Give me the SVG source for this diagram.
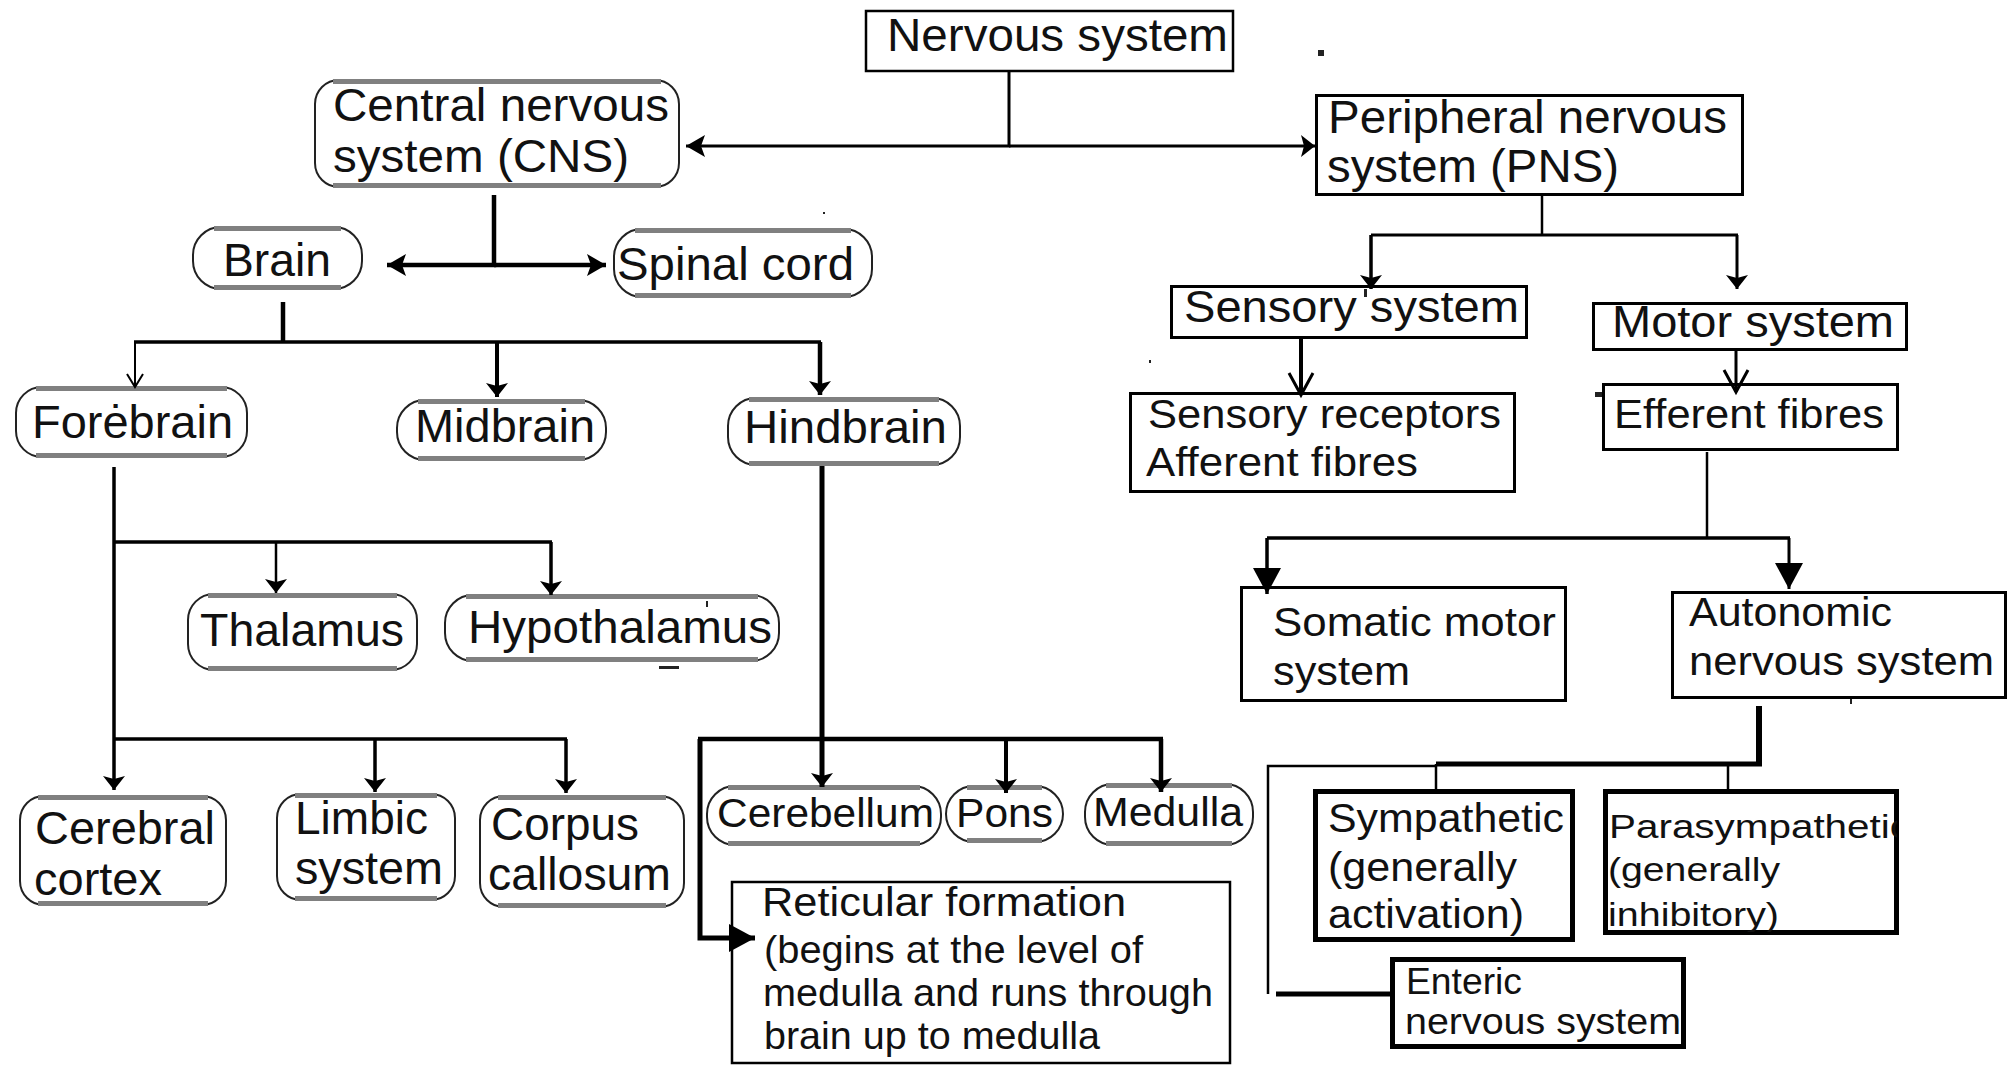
<svg xmlns="http://www.w3.org/2000/svg" width="2013" height="1066" viewBox="0 0 2013 1066">
<defs>
<style>
text{font-family:"Liberation Sans",Arial,sans-serif;fill:#111;}
.f46{font-size:45.5px}
.f44{font-size:44px}
.f41{font-size:41px}
.f40{font-size:40px}
.f38{font-size:38.5px}
.f36{font-size:36px}
.f34{font-size:34px}
.rr{fill:#fff;stroke:#222;stroke-width:2}
.gb{stroke:#808080;stroke-width:5;fill:none}
.bx{fill:#fff;stroke:#000;stroke-width:3}
.bx2{fill:#fff;stroke:#000;stroke-width:2.5}
.tk{fill:#fff;stroke:#000;stroke-width:5}
.ln{fill:none;stroke:#000;stroke-linejoin:miter;stroke-linecap:butt}
.mk{fill:#000}
.dot{fill:#222}
</style>
<marker id="sm" markerUnits="userSpaceOnUse" viewBox="-20 -15 22 30" refX="0" refY="0" markerWidth="22" markerHeight="30" orient="auto" overflow="visible"><path class="mk" d="M0,0 L-14,-11 L-11,0 L-14,11 Z"/></marker>
<marker id="md" markerUnits="userSpaceOnUse" viewBox="-24 -15 26 30" refX="0" refY="0" markerWidth="26" markerHeight="30" orient="auto" overflow="visible"><path class="mk" d="M0,0 L-19,-11 L-15,0 L-19,11 Z"/></marker>
<marker id="big" markerUnits="userSpaceOnUse" viewBox="-30 -16 32 32" refX="0" refY="0" markerWidth="32" markerHeight="32" orient="auto" overflow="visible"><path class="mk" d="M0,0 L-26,-14 L-26,14 Z"/></marker>
<marker id="open" markerUnits="userSpaceOnUse" viewBox="-26 -15 28 30" refX="0" refY="0" markerWidth="28" markerHeight="30" orient="auto" overflow="visible"><path d="M-22,-12 L0,0 L-22,12" fill="none" stroke="#000" stroke-width="3"/></marker>
<marker id="openS" markerUnits="userSpaceOnUse" viewBox="-16 -10 18 20" refX="0" refY="0" markerWidth="18" markerHeight="20" orient="auto" overflow="visible"><path d="M-13,-8 L0,0 L-13,8" fill="none" stroke="#000" stroke-width="2"/></marker>
<clipPath id="clipPara"><rect x="1600" y="789" width="297" height="143"/></clipPath>
</defs>
<rect x="0" y="0" width="2013" height="1066" fill="#fff"/>

<g id="n-nervous">
<rect class="bx2" x="866" y="11" width="367" height="60"/>
<text class="f46" x="887" y="51" textLength="341" lengthAdjust="spacingAndGlyphs">Nervous system</text>
</g>

<g id="n-cns">
<rect class="rr" x="315" y="80" width="364" height="107" rx="24"/>
<path class="gb" d="M333,81.5 H661 M333,185.5 H661"/>
<text class="f46" x="333" y="121" textLength="336" lengthAdjust="spacingAndGlyphs">Central nervous</text>
<text class="f46" x="333" y="172" textLength="296" lengthAdjust="spacingAndGlyphs">system (CNS)</text>
</g>

<g id="n-pns">
<rect class="bx" x="1316.5" y="95.5" width="426" height="99"/>
<text class="f46" x="1328" y="133" textLength="399" lengthAdjust="spacingAndGlyphs">Peripheral nervous</text>
<text class="f46" x="1327" y="182" textLength="292" lengthAdjust="spacingAndGlyphs">system (PNS)</text>
</g>

<g id="n-brain">
<rect class="rr" x="193" y="227" width="169" height="62" rx="28"/>
<path class="gb" d="M214,228.5 H341 M214,287.5 H341"/>
<text class="f46" x="223" y="276" textLength="108" lengthAdjust="spacingAndGlyphs">Brain</text>
</g>

<g id="n-spinal">
<rect class="rr" x="614" y="229" width="258" height="68" rx="28"/>
<path class="gb" d="M635,230.5 H851 M635,295.5 H851"/>
<text class="f46" x="617" y="280" textLength="237" lengthAdjust="spacingAndGlyphs">Spinal cord</text>
</g>

<g id="n-forebrain">
<rect class="rr" x="16" y="387" width="231" height="70" rx="26"/>
<path class="gb" d="M36,388.5 H227 M36,455.5 H227"/>
<text class="f46" x="32" y="438" textLength="201" lengthAdjust="spacingAndGlyphs">Forėbrain</text>
</g>

<g id="n-midbrain">
<rect class="rr" x="397" y="400" width="209" height="60" rx="28"/>
<path class="gb" d="M418,401.5 H585 M418,458.5 H585"/>
<text class="f46" x="415" y="442" textLength="180" lengthAdjust="spacingAndGlyphs">Midbrain</text>
</g>

<g id="n-hindbrain">
<rect class="rr" x="728" y="398" width="232" height="67" rx="28"/>
<path class="gb" d="M749,399.5 H939 M749,463.5 H939"/>
<text class="f46" x="744" y="443" textLength="203" lengthAdjust="spacingAndGlyphs">Hindbrain</text>
</g>

<g id="n-thalamus">
<rect class="rr" x="188" y="594" width="229" height="76" rx="26"/>
<path class="gb" d="M208,595.5 H397 M208,668.5 H397"/>
<text class="f46" x="200" y="646" textLength="204" lengthAdjust="spacingAndGlyphs">Thalamus</text>
</g>

<g id="n-hypothalamus">
<rect class="rr" x="445" y="595" width="334" height="66" rx="28"/>
<path class="gb" d="M466,596.5 H758 M466,659.5 H758"/>
<text class="f46" x="468" y="643" textLength="304" lengthAdjust="spacingAndGlyphs">Hypothalamus</text>
</g>

<g id="n-cerebral">
<rect class="rr" x="20" y="796" width="206" height="109" rx="24"/>
<path class="gb" d="M38,797.5 H208 M38,903.5 H208"/>
<text class="f46" x="35" y="844" textLength="180" lengthAdjust="spacingAndGlyphs">Cerebral</text>
<text class="f46" x="34" y="895" textLength="128" lengthAdjust="spacingAndGlyphs">cortex</text>
</g>

<g id="n-limbic">
<rect class="rr" x="277" y="794" width="178" height="106" rx="24"/>
<path class="gb" d="M295,795.5 H437 M295,898.5 H437"/>
<text class="f46" x="295" y="834" textLength="133" lengthAdjust="spacingAndGlyphs">Limbic</text>
<text class="f46" x="295" y="884" textLength="148" lengthAdjust="spacingAndGlyphs">system</text>
</g>

<g id="n-corpus">
<rect class="rr" x="480" y="796" width="204" height="111" rx="24"/>
<path class="gb" d="M498,797.5 H666 M498,905.5 H666"/>
<text class="f46" x="491" y="840" textLength="148" lengthAdjust="spacingAndGlyphs">Corpus</text>
<text class="f46" x="488" y="890" textLength="183" lengthAdjust="spacingAndGlyphs">callosum</text>
</g>

<g id="n-cerebellum">
<rect class="rr" x="707" y="786" width="234" height="59" rx="28"/>
<path class="gb" d="M728,787.5 H920 M728,843.5 H920"/>
<text class="f40" x="717" y="827" textLength="217" lengthAdjust="spacingAndGlyphs">Cerebellum</text>
</g>

<g id="n-pons">
<rect class="rr" x="946" y="786" width="117" height="56" rx="28"/>
<path class="gb" d="M967,787.5 H1042 M967,840.5 H1042"/>
<text class="f40" x="956" y="827" textLength="97" lengthAdjust="spacingAndGlyphs">Pons</text>
</g>

<g id="n-medulla">
<rect class="rr" x="1085" y="784" width="168" height="61" rx="28"/>
<path class="gb" d="M1106,785.5 H1232 M1106,843.5 H1232"/>
<text class="f40" x="1093" y="826" textLength="150" lengthAdjust="spacingAndGlyphs">Medulla</text>
</g>

<g id="n-reticular">
<rect class="bx2" x="732" y="882" width="498" height="181"/>
<text class="f41" x="762" y="916" textLength="364" lengthAdjust="spacingAndGlyphs">Reticular formation</text>
<text class="f38" x="764" y="963" textLength="379" lengthAdjust="spacingAndGlyphs">(begins at the level of</text>
<text class="f38" x="763" y="1006" textLength="450" lengthAdjust="spacingAndGlyphs">medulla and runs through</text>
<text class="f38" x="764" y="1049" textLength="336" lengthAdjust="spacingAndGlyphs">brain up to medulla</text>
</g>

<g id="n-sensory">
<rect class="bx" x="1171.5" y="286.5" width="355" height="51"/>
<text class="f44" x="1184" y="322" textLength="335" lengthAdjust="spacingAndGlyphs">Sensory system</text>
</g>

<g id="n-receptors">
<rect class="bx" x="1130.5" y="393.5" width="384" height="98"/>
<text class="f41" x="1148" y="428" textLength="353" lengthAdjust="spacingAndGlyphs">Sensory receptors</text>
<text class="f41" x="1146" y="476" textLength="272" lengthAdjust="spacingAndGlyphs">Afferent fibres</text>
</g>

<g id="n-motor">
<rect class="bx" x="1593.5" y="303.5" width="313" height="46"/>
<text class="f44" x="1612" y="337" textLength="282" lengthAdjust="spacingAndGlyphs">Motor system</text>
</g>

<g id="n-efferent">
<rect class="bx" x="1603.5" y="384.5" width="294" height="65"/>
<text class="f41" x="1614" y="428" textLength="270" lengthAdjust="spacingAndGlyphs">Efferent fibres</text>
</g>

<g id="n-somatic">
<rect class="bx" x="1241.5" y="587.5" width="324" height="113"/>
<text class="f41" x="1273" y="636" textLength="283" lengthAdjust="spacingAndGlyphs">Somatic motor</text>
<text class="f41" x="1273" y="685" textLength="137" lengthAdjust="spacingAndGlyphs">system</text>
</g>

<g id="n-autonomic">
<rect class="bx" x="1672.5" y="592.5" width="333" height="105"/>
<text class="f41" x="1689" y="626" textLength="203" lengthAdjust="spacingAndGlyphs">Autonomic</text>
<text class="f41" x="1689" y="675" textLength="305" lengthAdjust="spacingAndGlyphs">nervous system</text>
</g>

<g id="n-sympathetic">
<rect class="tk" x="1315.5" y="791.5" width="257" height="148"/>
<text class="f40" x="1328" y="832" textLength="236" lengthAdjust="spacingAndGlyphs">Sympathetic</text>
<text class="f40" x="1328" y="881" textLength="189" lengthAdjust="spacingAndGlyphs">(generally</text>
<text class="f40" x="1328" y="928" textLength="196" lengthAdjust="spacingAndGlyphs">activation)</text>
</g>

<g id="n-parasympathetic">
<rect class="tk" x="1605.5" y="791.5" width="291" height="141"/>
<g clip-path="url(#clipPara)">
<text class="f34" x="1609" y="838" textLength="301" lengthAdjust="spacingAndGlyphs">Parasympathetic</text>
<text class="f34" x="1608" y="881" textLength="172" lengthAdjust="spacingAndGlyphs">(generally</text>
<text class="f34" x="1608" y="926" textLength="171" lengthAdjust="spacingAndGlyphs">inhibitory)</text>
</g>
</g>

<g id="n-enteric">
<rect class="tk" x="1392.5" y="959.5" width="291" height="87"/>
<text class="f36" x="1406" y="994" textLength="116" lengthAdjust="spacingAndGlyphs">Enteric</text>
<text class="f36" x="1405" y="1034" textLength="276" lengthAdjust="spacingAndGlyphs">nervous system</text>
</g>

<g id="connectors" class="ln">
<path d="M1009,72 V146 H686" stroke-width="3" marker-end="url(#md)"/>
<path d="M1009,146 H1315" stroke-width="3" marker-end="url(#sm)"/>
<path d="M494,195 V265 H387" stroke-width="4.5" marker-end="url(#md)"/>
<path d="M494,265 H606" stroke-width="4.5" marker-end="url(#md)"/>
<path d="M283,302 V342" stroke-width="4.5"/>
<path d="M134,342 H821" stroke-width="3.5"/>
<path d="M135,342 V387" stroke-width="2" marker-end="url(#openS)"/>
<path d="M497,342 V397" stroke-width="4" marker-end="url(#sm)"/>
<path d="M820,342 V395" stroke-width="4.5" marker-end="url(#sm)"/>
<path d="M114,467 V790" stroke-width="3.5" marker-end="url(#sm)"/>
<path d="M114,542 H552" stroke-width="3.5"/>
<path d="M276,542 V593" stroke-width="2.5" marker-end="url(#sm)"/>
<path d="M551,542 V595" stroke-width="3.5" marker-end="url(#sm)"/>
<path d="M114,739 H567" stroke-width="3.5"/>
<path d="M375,739 V792" stroke-width="3.5" marker-end="url(#sm)"/>
<path d="M566,739 V793" stroke-width="3.5" marker-end="url(#sm)"/>
<path d="M822,466 V787" stroke-width="5" marker-end="url(#sm)"/>
<path d="M698,739 H1163" stroke-width="4.5"/>
<path d="M1006,739 V793" stroke-width="4" marker-end="url(#sm)"/>
<path d="M1161,739 V792" stroke-width="4.5" marker-end="url(#sm)"/>
<path d="M700,739 V938 H755" stroke-width="5" marker-end="url(#big)"/>
<path d="M1542,196 V235" stroke-width="2.5"/>
<path d="M1371,235 H1738" stroke-width="3"/>
<path d="M1371,235 V289" stroke-width="3.5" marker-end="url(#sm)"/>
<path d="M1737,235 V289" stroke-width="3" marker-end="url(#sm)"/>
<path d="M1301,339 V395" stroke-width="4" marker-end="url(#open)"/>
<path d="M1736,351 V392" stroke-width="3" marker-end="url(#open)"/>
<path d="M1707,452 V538" stroke-width="2.5"/>
<path d="M1267,538 H1790" stroke-width="3.5"/>
<path d="M1267,538 V594" stroke-width="3.5" marker-end="url(#big)"/>
<path d="M1789,538 V589" stroke-width="3" marker-end="url(#big)"/>
<path d="M1759,706 V766" stroke-width="6"/>
<path d="M1436,764 H1762" stroke-width="5"/>
<path d="M1436,766 H1268 V994" stroke-width="2.5"/>
<path d="M1436,764 V789" stroke-width="2.5"/>
<path d="M1728,764 V789" stroke-width="2.5"/>
<path d="M1276,994 H1392" stroke-width="5"/>
</g>

<g id="marks">
<rect class="dot" x="1318" y="50" width="6" height="6"/>
<rect class="dot" x="659" y="666" width="20" height="3"/>
<rect class="dot" x="706" y="601" width="2" height="6"/>
<rect class="dot" x="1595" y="392" width="7" height="5"/>
<rect class="dot" x="1364" y="289" width="3" height="8"/>
<rect class="dot" x="823" y="212" width="2" height="2"/>
<rect class="dot" x="1149" y="360" width="2" height="3"/>
<rect class="dot" x="1850" y="699" width="2" height="5"/>
</g>
</svg>
